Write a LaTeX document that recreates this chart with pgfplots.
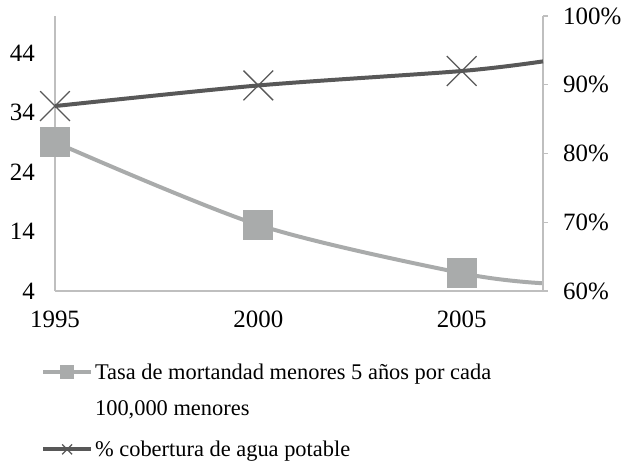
\documentclass[border=0pt]{standalone}
\usepackage{pgfplots}
\pgfplotsset{compat=1.18}
\usepackage{fontspec}
\setmainfont{Liberation Serif}
\definecolor{mortc}{HTML}{A9ABAB}
\definecolor{aguac}{HTML}{585858}
\definecolor{axc}{HTML}{BFBFBF}
\pgfplotsset{
  legone/.style={legend image code/.code={\path[draw=none,fill=none] (0bp,-18bp) rectangle (48bp,-17bp); \draw[##1] (0bp,18bp) -- (48bp,18bp); \draw[##1, only marks, mark size=5bp] plot coordinates {(24bp,18bp)};}},
  legtwo/.style={legend image code/.code={\draw[##1] (0bp,0bp) -- (48bp,0bp); \draw[##1, only marks, mark size=7bp] plot coordinates {(24bp,0bp)};}},
}
\begin{document}
\begin{tikzpicture}[x=1bp,y=1bp]
\path[use as bounding box] (0,0) rectangle (629,-470);
\begin{axis}[
  scale only axis, width=488bp, height=275bp,
  at={(55bp,-291bp)}, anchor=south west,
  xmin=1995, xmax=2007, ymin=4, ymax=50.2,
  axis x line*=bottom, axis y line*=left,
  axis line style={axc, line width=1.5pt, -},
  xtick={1995,2000,2005}, ytick={4,14,24,34,44},
  major tick length=0pt,
  /pgf/number format/1000 sep={},
  /pgf/number format/assume math mode=true,
  tick label style={font=\fontsize{25}{28}\selectfont, black},
  yticklabel style={inner xsep=20bp},
  xticklabel style={inner ysep=20bp},
  clip=false,
  legend style={draw=none, fill=none, at={(-0.035,-0.25)}, anchor=north west,
    font=\fontsize{22.5}{36}\selectfont, cells={align=left}, row sep=20bp,
    column sep=0pt, nodes={inner xsep=2bp}},
  legend cell align=left,
]
\addplot[mortc, line width=4pt, smooth, mark=square*, mark size=13bp, mark indices={1,2,3},
  mark options={fill=mortc, draw=none}, legone]
  coordinates {(1995,29.0) (2000,15.1) (2005,7.0) (2007,5.3)};
\addlegendentry{Tasa de mortandad menores 5 años por cada\\100,000 menores}
\addlegendimage{aguac, line width=4pt, mark=x, mark options={line width=1.3pt}, legtwo}
\addlegendentry{\% cobertura de agua potable}
\end{axis}
\begin{axis}[
  scale only axis, width=488bp, height=275bp,
  at={(55bp,-291bp)}, anchor=south west,
  xmin=1995, xmax=2007, ymin=60, ymax=100,
  axis x line=none, axis y line*=right,
  axis line style={axc, line width=1.5pt, -},
  ytick={60,70,80,90,100},
  yticklabel={\pgfmathprintnumber{\tick}\%},
  tick align=outside, major tick length=5bp,
  major tick style={axc, line width=1.5pt},
  /pgf/number format/assume math mode=true,
  tick label style={font=\fontsize{25}{28}\selectfont, black},
  yticklabel style={inner xsep=15bp},
  clip=false,
]
\addplot[aguac, line width=4pt, smooth, mark=x, mark size=21bp, mark indices={1,2,3},
  mark options={line width=1.3pt, draw=aguac}] coordinates {(1995,86.9) (2000,89.9) (2005,92.0) (2007,93.4)};
\end{axis}
\end{tikzpicture}
\end{document}
